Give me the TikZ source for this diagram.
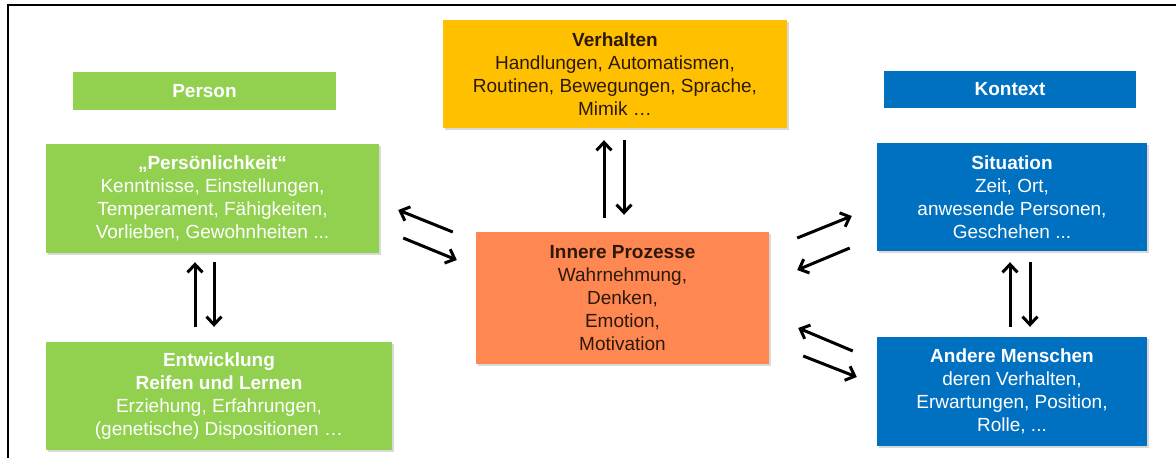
\documentclass[tikz,border=0pt]{standalone}
\usepackage{fontspec}
\setmainfont{Liberation Sans}
\definecolor{persgreen}{RGB}{146, 208, 80}
\definecolor{verhyellow}{RGB}{255, 192, 0}
\definecolor{innerorange}{RGB}{255, 136, 82}
\definecolor{kontblue}{RGB}{0, 112, 192}
\definecolor{darktext}{RGB}{45, 25, 10}
\usepackage{tikz}
\usetikzlibrary{arrows.meta, calc, shadows}

\begin{document}
\begin{tikzpicture}[x=1pt, y=-1pt,
  box/.style={inner sep=2pt, align=center, font=\fontsize{19}{23}\selectfont,
    drop shadow={shadow xshift=1.5pt, shadow yshift=-2pt, opacity=0.3}},
  header/.style={inner sep=0pt, align=center, text=white, font=\fontsize{19}{23}\selectfont\bfseries},
  arr/.style={line width=3pt, -{Straight Barb[length=8pt, width=15pt]}}]
  \useasboundingbox (0,0) rectangle (1176,458);

  % Frame
  \draw[line width=2.2pt] (1176,5) -- (8,5) -- (8,458);

  % Person side
  \node[header, fill=persgreen, minimum width=263pt, minimum height=38pt] (person) at (204.5,91) {Person};
  \node[box, fill=persgreen, text=white, minimum width=333pt, minimum height=109pt] (pers) at (212.5,198.5) {
    \textbf{„Persönlichkeit“}\\
    Kenntnisse, Einstellungen,\\
    Temperament, Fähigkeiten,\\
    Vorlieben, Gewohnheiten ...
  };
  \node[box, fill=persgreen, text=white, minimum width=346pt, minimum height=108pt] (entw) at (219,396) {
    \textbf{Entwicklung}\\
    \textbf{Reifen und Lernen}\\
    Erziehung, Erfahrungen,\\
    (genetische) Dispositionen …
  };

  % Middle
  \node[box, fill=verhyellow, text=darktext, minimum width=344pt, minimum height=108pt] (verh) at (615,74) {
    \textbf{Verhalten}\\
    Handlungen, Automatismen,\\
    Routinen, Bewegungen, Sprache,\\
    Mimik …
  };
  \node[box, fill=innerorange, text=darktext, minimum width=293pt, minimum height=132pt] (inner) at (622.5,298) {
    \textbf{Innere Prozesse}\\
    Wahrnehmung,\\
    Denken,\\
    Emotion,\\
    Motivation
  };

  % Kontext side
  \node[header, fill=kontblue, minimum width=252pt, minimum height=37pt] (kontext) at (1010,89.5) {Kontext};
  \node[box, fill=kontblue, text=white, minimum width=270pt, minimum height=108pt] (sit) at (1012,197) {
    \textbf{Situation}\\
    Zeit, Ort,\\
    anwesende Personen,\\
    Geschehen ...
  };
  \node[box, fill=kontblue, text=white, minimum width=270pt, minimum height=109pt] (andere) at (1012,391.5) {
    \textbf{Andere Menschen}\\
    deren Verhalten,\\
    Erwartungen, Position,\\
    Rolle, ...
  };

  % Arrows
  \draw[arr] ($(inner.north)+(-18.5,-14)$) -- ($(verh.south)+(-11,12)$);
  \draw[arr] ($(verh.south)+(9,12)$) -- ($(inner.north)+(1.5,-17)$);
  \draw[arr] ($(entw.north)+(-24,-15)$) -- ($(pers.south)+(-17.5,9)$);
  \draw[arr] ($(pers.south)+(1.5,9)$) -- ($(entw.north)+(-5,-15)$);
  \draw[arr] ($(andere.north)+(-2,-10)$) -- ($(sit.south)+(-2,11)$);
  \draw[arr] ($(sit.south)+(18,11)$) -- ($(andere.north)+(18,-10)$);
  \draw[arr] ($(inner.west)+(-23,-66)$) -- ($(pers.east)+(19,11.5)$);
  \draw[arr] ($(pers.east)+(24,39.5)$) -- ($(inner.west)+(-19,-38)$);
  \draw[arr] ($(inner.east)+(28,-60)$) -- ($(sit.west)+(-25,19)$);
  \draw[arr] ($(sit.west)+(-27,51)$) -- ($(inner.east)+(28,-28)$);
  \draw[arr] ($(andere.west)+(-24,-40.5)$) -- ($(inner.east)+(29,30)$);
  \draw[arr] ($(inner.east)+(34,58)$) -- ($(andere.west)+(-20,-14.5)$);
\end{tikzpicture}
\end{document}
